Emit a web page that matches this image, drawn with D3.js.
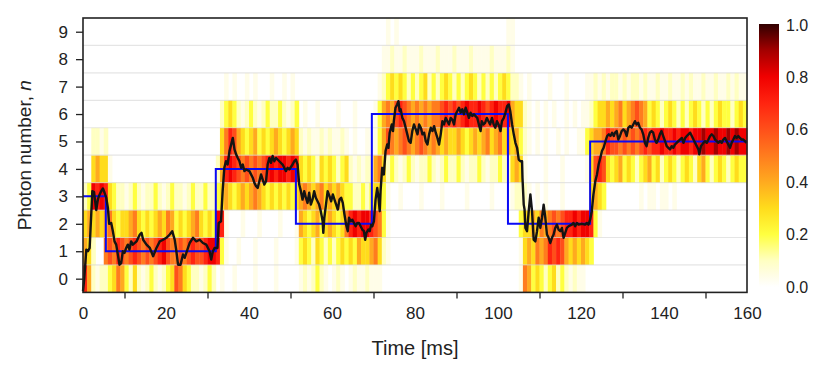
<!DOCTYPE html>
<html>
<head>
<meta charset="utf-8">
<script src="https://cdn.jsdelivr.net/npm/d3@7"></script>
<style>
  body { margin: 0; background: #fff; }
  text { font-family: Arial, "Liberation Sans", sans-serif; fill: #222; }
</style>
</head>
<body>
<script>
// photon number distribution vs time, 1 ms bins
// each char = probability in tenths, "a" = faint (~0.04)
var probRows = [
  "741a112354 2131a121a1 23653211a1 210a00a000 0a0000a000 00a1a121a0 a1a0a1aa1a aa00000000 0000000000 0000000000 00000a5423 2123121a1a a000000000 0000000000 0000000000 0000000000", // n=0
  "4310056576 5676565678 6556567667 8872a00a00 0a0000a000 0a23213212 1232324334 531a000000 0000000000 0000000000 00000a3435 4576764343 4320000000 0000000000 0000000000 0000000000", // n=1
  "3434345323 3453232343 5423234532 3287a000a0 00a0000a00 0a43234234 3235787887 652a000000 0000000000 0000000000 0000023343 5456567787 8872a00000 0000000000 0000000000 0000000000", // n=2
  "1287873211 a121a1121a 1211a12112 1123432343 4543232323 2345434534 3432211212 332a00a000 0a0000a000 00a00000a0 000a111a0a 0a000a0000 0034320000 0000a0aa0a a0a0000000 0000000000", // n=3
  "003433a000 0000000000 0000000000 0014787656 5656787887 8732321323 21231a1a11 453121a121 a1121a1211 21a1121a11 211343a000 0a000a0000 0a36763234 2321234231 2321232134 2123212322", // n=4
  "0011a10000 0000000000 0000000000 0003576432 3423234323 431a1aa1a1 aa1a0a00a0 a246545654 5654543433 4323434534 5343421a0a 0a00a0a00a a234457665 6565676778 7787887889 8898898988", // n=5
  "0000000000 0000000000 0000000000 00012321a1 21a121121a 120a00a000 0a000a0000 a245467654 5454556767 6787787678 7784331a0a 0a0a00a0a0 aa12334345 3456542321 2321212321 2123221232", // n=6
  "0000000000 0000000000 0000000000 0000a0a00a 0a000a00a0 a000000000 0000000000 0a12323212 1231212321 2123212121 23211a0a00 00a000a000 0aa1a1a11a 1a11a1aa1a a1aa1a1aa1 aa1aa1a1aa", // n=7
  "0000000000 0000000000 0000000000 0000000000 0000000000 0000000000 0000000000 00aa1aa1aa a1aaa1aaa1 aaa1aaaa1a aa1a000000 0000000000 0000000000 0000000000 0000000000 0000000000", // n=8
  "0000000000 0000000000 0000000000 0000000000 0000000000 0000000000 0000000000 000a0a0000 0000000000 0000000000 00aa000000 0000000000 0000000000 0000000000 0000000000 0000000000"  // n=9
];

// target photon number (blue steps)
var stepT = [0, 5.5, 32, 51.3, 69.6, 102.4, 122.2, 160];
var stepN = [3, 1, 4, 2, 6, 2, 5, 5];

// measured mean photon number (black trace)
var traceT = [0,0.3,0.8,1.2,1.6,2.25,2.65,3.2,3.6,4.0,4.4,4.8,5.2,5.6,6.0,6.3,6.8,7.2,7.6,8.0,8.8,9.2,9.6,10.0,10.4,10.8,11.2,11.6,12.0,12.9,13.7,14.1,14.5,15.3,16.1,16.9,17.7,18.5,19.3,20.1,20.9,21.5,22.1,22.5,22.9,23.5,24.1,24.5,25.3,25.7,26.5,27.3,28.1,28.9,29.7,30.5,30.9,31.3,31.7,32.05,32.4,32.7,33.25,33.65,34.05,34.45,34.85,35.3,35.7,36.1,36.5,36.9,37.3,37.7,38.1,38.5,38.9,39.3,40.1,40.9,41.3,41.7,42.1,42.5,42.9,43.3,43.7,44.1,44.5,44.9,45.3,45.7,46.1,46.5,47.3,48.1,48.9,49.3,49.7,50.5,50.9,51.3,51.7,52.1,52.5,52.9,53.3,53.7,54.1,54.5,54.9,55.3,55.7,56.1,56.9,57.3,57.75,57.9,58.15,58.55,58.95,59.4,59.8,60.2,60.6,61.0,61.4,61.8,62.2,62.6,63.0,63.4,63.8,64.1,64.5,64.9,65.3,65.7,66.1,66.5,66.9,67.3,67.7,68.0,68.3,68.75,69.1,69.4,69.7,70.1,70.5,70.9,71.2,71.5,71.7,72.1,72.5,72.9,73.3,73.6,73.9,74.4,74.7,74.9,75.3,75.7,76.0,76.3,76.55,76.95,77.35,77.75,78.15,78.55,78.95,79.35,79.75,80.2,80.6,81.0,81.4,81.8,82.2,82.6,83.0,83.4,83.8,84.2,84.6,85.0,85.4,85.8,86.2,86.6,87.0,87.4,87.8,88.2,88.6,89.0,89.4,89.8,90.2,90.6,91.0,91.4,91.8,92.2,92.6,93.0,93.4,93.8,94.2,95.0,95.4,95.8,96.1,96.5,96.9,97.3,97.7,98.1,98.55,98.95,99.35,99.75,100.15,100.6,100.95,101.4,101.8,102.2,102.6,102.95,103.4,103.8,104.2,104.6,105.0,105.4,105.8,105.9,106.2,106.4,106.6,107.0,107.4,107.8,108.2,108.6,109.0,109.4,109.8,110.2,110.6,111.0,111.4,111.8,112.2,112.6,113.0,113.4,113.8,114.2,114.6,115.0,115.4,115.8,116.2,116.6,117.0,117.8,118.2,118.6,119.0,119.4,120.2,121.0,121.4,121.8,122.2,122.6,123.0,123.45,123.85,124.25,124.65,125.05,125.45,125.9,126.3,126.7,127.1,127.5,127.9,128.2,128.6,129.0,129.4,129.8,130.2,130.6,131.0,131.4,131.8,132.2,132.6,133.0,133.4,133.8,134.2,134.6,135.0,135.4,135.8,136.2,136.6,137.0,137.4,137.8,138.2,138.6,139.0,139.4,139.8,140.25,140.65,141.05,141.45,141.85,142.25,142.65,143.05,143.45,143.85,144.3,144.7,145.1,145.5,145.9,146.3,146.7,147.1,147.5,147.9,148.3,148.5,148.9,149.5,149.9,150.3,150.7,151.1,151.5,151.9,152.3,152.7,153.1,153.5,153.9,154.3,154.7,155.1,155.5,155.9,156.3,156.7,157.1,157.5,157.9,158.3,158.7,159.1,159.5,159.9];
var traceN = [-0.45,0.0,1.06,1.0,1.12,3.19,3.16,2.5,2.9,3.07,3.19,3.29,3.13,2.95,2.58,2.0,2.03,1.73,1.36,1.24,0.51,0.57,1.0,0.94,1.12,1.24,1.06,1.36,1.24,1.36,1.61,1.67,1.42,1.24,1.12,0.82,1.12,1.36,1.42,1.49,1.61,1.73,1.42,1.0,0.51,0.51,0.88,0.76,1.12,1.30,1.49,1.36,1.42,1.30,1.24,1.0,0.70,1.0,1.12,1.12,1.12,2.03,2.09,3.19,4.04,4.28,4.16,4.65,4.89,5.13,4.71,4.53,4.40,4.28,4.04,4.16,3.92,3.98,3.92,3.68,3.49,3.37,3.31,3.55,3.80,3.61,3.43,3.55,4.16,4.40,4.22,4.47,4.28,4.40,4.28,4.16,3.92,4.04,3.98,4.16,4.28,4.34,4.16,3.43,3.19,2.88,3.19,2.95,2.76,3.13,2.70,2.88,3.19,2.95,2.70,2.46,2.09,1.67,2.22,2.70,3.19,3.01,2.82,3.07,2.88,2.70,2.52,2.88,2.95,2.76,2.34,1.97,1.73,2.22,2.09,2.15,2.03,1.91,2.03,2.03,1.91,1.79,1.73,1.42,1.67,1.79,1.73,1.97,1.91,2.09,2.88,3.31,2.95,2.46,3.19,4.04,3.80,4.65,4.89,4.77,5.32,5.62,5.38,5.74,6.23,6.35,6.47,6.11,6.17,5.86,5.74,5.50,5.26,5.01,4.95,5.38,5.62,5.44,5.26,5.62,5.50,5.26,5.32,5.01,4.89,5.26,5.50,5.38,5.56,5.32,5.13,4.89,5.26,5.74,5.62,5.86,5.74,5.62,5.86,5.80,5.62,5.99,6.11,6.23,6.05,6.17,5.99,6.23,6.05,5.86,6.05,5.93,5.99,5.86,5.62,5.38,5.74,5.62,5.68,5.86,5.74,5.62,5.86,5.62,5.50,5.74,5.62,5.38,5.74,5.86,6.05,6.29,6.35,6.11,5.62,5.26,4.95,4.77,4.34,4.28,4.28,3.68,2.70,2.52,1.85,1.73,2.46,3.07,2.46,1.42,1.36,1.73,2.22,1.85,2.22,2.70,2.22,1.61,1.49,1.30,1.49,1.61,1.85,1.97,1.79,1.73,1.85,1.49,1.67,1.85,1.91,1.97,2.03,1.91,2.03,1.97,2.00,1.97,2.03,1.97,2.15,2.46,3.07,3.55,3.80,4.16,4.40,4.65,4.77,5.01,5.20,5.26,5.20,5.32,5.20,5.32,5.38,5.07,5.20,5.38,5.44,5.38,5.20,5.50,5.56,5.50,5.62,5.74,5.62,5.68,5.50,5.44,5.26,4.95,4.83,5.13,5.32,5.38,5.32,5.07,4.95,5.07,5.26,5.38,5.20,5.01,4.83,4.77,4.71,4.83,4.77,4.89,4.95,5.01,5.07,5.13,4.95,5.13,5.20,5.26,5.32,5.20,5.07,4.95,4.83,4.71,4.53,4.83,4.95,5.01,4.95,5.07,5.20,5.26,5.20,5.07,5.01,4.95,5.01,4.95,5.07,5.13,5.01,4.89,4.77,4.95,5.07,5.20,5.13,5.20,5.13,5.07,5.07,5.01,4.95];

var xTicks = [0, 20, 40, 60, 80, 100, 120, 140, 160];
var xMinorTicks = [10, 30, 50, 70, 90, 110, 130, 150];
var yTicks = [0, 1, 2, 3, 4, 5, 6, 7, 8, 9];
var colorTicks = [0, 0.2, 0.4, 0.6, 0.8, 1.0];
var colorStops = [0, 0.05, 0.1, 0.2, 0.3, 0.4, 0.5, 0.6, 0.7, 0.8, 0.9, 1.0];
var colorList = ["#ffffff", "#fffde2", "#ffffc2", "#ffff40", "#ffdc1c", "#ffaa1f", "#ff7c1e", "#ff4f1a", "#ff2410", "#f00000", "#a30000", "#300000"];

var W = 830, H = 366;
var margin = {top: 18, right: 83, bottom: 73.6, left: 83};
var pw = W - margin.left - margin.right, ph = H - margin.top - margin.bottom;

var svg = d3.select("body").append("svg")
  .attr("width", W)
  .attr("height", H);

var g = svg.append("g").attr("transform", "translate(" + margin.left + "," + margin.top + ")");

var x = d3.scaleLinear().domain([0, 160]).range([0, pw]);
var y = d3.scaleLinear().domain([-0.5, 9.5]).range([ph, 0]);
var color = d3.scaleLinear().domain(colorStops).range(colorList).clamp(true);

// parse the rows into cells
var charVal = function(c){ return c === "a" ? 0.04 : (+c) / 10; };
var cells = [];
probRows.forEach(function(s, n){
  var row = s.replace(/\s/g, "").padEnd(160, "0").slice(0, 160);
  for (var t = 0; t < 160; t++){
    var v = charVal(row[t]);
    if (v > 0) cells.push({t: t, n: n, v: v});
  }
});

g.append("g").attr("class", "heat")
  .selectAll("rect")
  .data(cells)
  .enter().append("rect")
  .attr("x", function(d){ return x(d.t); })
  .attr("width", function(d){ return x(d.t + 1) - x(d.t) + 0.4; })
  .attr("y", function(d){ return y(d.n + 0.5); })
  .attr("height", function(d){ return y(d.n - 0.5) - y(d.n + 0.5); })
  .attr("fill", function(d){ return color(d.v); });

// light separators between photon-number rows
g.append("g").selectAll("line")
  .data(d3.range(0.5, 9, 1))
  .enter().append("line")
  .attr("x1", 0).attr("x2", pw)
  .attr("y1", function(d){ return y(d); })
  .attr("y2", function(d){ return y(d); })
  .attr("stroke", "#d4d4d4")
  .attr("stroke-opacity", 0.6)
  .attr("stroke-width", 1.2);

// target steps
var stepData = stepT.map(function(t, i){ return [t, stepN[i]]; });
g.append("path")
  .datum(stepData)
  .attr("fill", "none")
  .attr("stroke", "#0a0af5")
  .attr("stroke-width", 2)
  .attr("d", d3.line()
    .x(function(d){ return x(d[0]); })
    .y(function(d){ return y(d[1]); })
    .curve(d3.curveStepAfter));

// measured trace
var traceData = traceT.map(function(t, i){ return [t, traceN[i]]; });
g.append("path")
  .datum(traceData)
  .attr("fill", "none")
  .attr("stroke", "#141414")
  .attr("stroke-width", 2.4)
  .attr("stroke-linejoin", "round")
  .attr("d", d3.line()
    .x(function(d){ return x(d[0]); })
    .y(function(d){ return y(d[1]); }));

// frame
g.append("rect")
  .attr("width", pw).attr("height", ph)
  .attr("fill", "none")
  .attr("stroke", "#222")
  .attr("stroke-width", 1.6);

// axes
var yAxis = g.append("g")
  .call(d3.axisLeft(y).tickValues(yTicks).tickSize(7).tickSizeOuter(0).tickPadding(8));
yAxis.select(".domain").remove();
yAxis.selectAll("line").attr("stroke", "#222").attr("stroke-width", 1.3);
yAxis.selectAll("text").style("font-size", "17px").style("font-family", "Arial, 'Liberation Sans', sans-serif").attr("fill", "#222");

var xAxis = g.append("g")
  .attr("transform", "translate(0," + ph + ")")
  .call(d3.axisBottom(x).tickValues(xTicks).tickSize(0).tickPadding(15));
xAxis.select(".domain").remove();
xAxis.selectAll("text").style("font-size", "17px").style("font-family", "Arial, 'Liberation Sans', sans-serif").attr("fill", "#222");

var xMinor = g.append("g")
  .attr("transform", "translate(0," + ph + ")")
  .call(d3.axisBottom(x).tickValues(xMinorTicks).tickSize(6).tickFormat(""));
xMinor.select(".domain").remove();
xMinor.selectAll("line").attr("stroke", "#222").attr("stroke-width", 1.3);

// axis titles
svg.append("text")
  .attr("x", margin.left + pw / 2)
  .attr("y", 355)
  .attr("text-anchor", "middle")
  .style("font-size", "20px")
  .text("Time [ms]");

var yTitle = svg.append("text")
  .attr("transform", "translate(31," + (margin.top + ph / 2) + ") rotate(-90)")
  .attr("text-anchor", "middle")
  .style("font-size", "19px");
yTitle.append("tspan").text("Photon number, ");
yTitle.append("tspan").style("font-style", "italic").text("n");

// colour bar
var cbX = 759, cbW = 20, cbTop = 24, cbBottom = 287;
var defs = svg.append("defs");
var grad = defs.append("linearGradient")
  .attr("id", "cbar")
  .attr("x1", 0).attr("y1", 1).attr("x2", 0).attr("y2", 0);
grad.selectAll("stop")
  .data(colorStops)
  .enter().append("stop")
  .attr("offset", function(d){ return d; })
  .attr("stop-color", function(d){ return color(d); });

svg.append("rect")
  .attr("x", cbX).attr("y", cbTop)
  .attr("width", cbW).attr("height", cbBottom - cbTop)
  .attr("fill", "url(#cbar)");

var cScale = d3.scaleLinear().domain([0, 1]).range([cbBottom, cbTop + 1]);
var cAxis = svg.append("g")
  .attr("transform", "translate(" + (cbX + cbW) + ",0)")
  .call(d3.axisRight(cScale).tickValues(colorTicks).tickSize(0).tickPadding(7).tickFormat(d3.format(".1f")));
cAxis.select(".domain").remove();
cAxis.selectAll("text").style("font-size", "16px").style("font-family", "Arial, 'Liberation Sans', sans-serif").attr("fill", "#222");
</script>
</body>
</html>
